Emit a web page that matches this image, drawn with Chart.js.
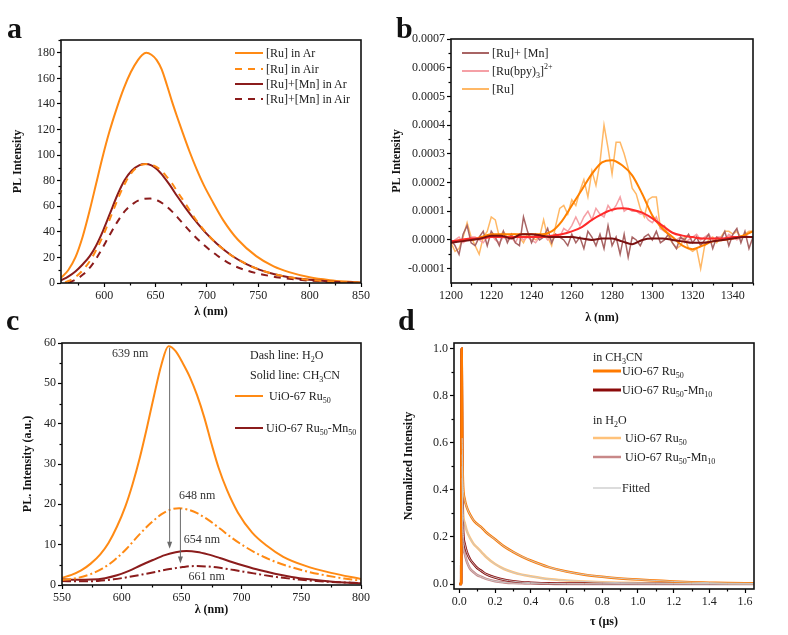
<!DOCTYPE html>
<html><head><meta charset="utf-8">
<script src="https://cdn.jsdelivr.net/npm/chart.js@4.4.0/dist/chart.umd.min.js"></script>
<style>
html,body{margin:0;padding:0;background:#fff;}
#wrap{position:relative;width:788px;height:635px;overflow:hidden;font-family:"Liberation Serif","Times New Roman",serif;color:#222;}
canvas{position:absolute;}
.lbl{position:absolute;font-weight:bold;font-size:30px;line-height:30px;color:#111;}
.leg{position:absolute;font-size:12px;white-space:nowrap;line-height:14px;height:14px;}
.leg svg{position:absolute;left:0;top:0;}
.leg sub{font-size:8px;vertical-align:-3px;line-height:0;}
.leg sup{font-size:8px;vertical-align:6px;line-height:0;}
</style></head>
<body><div id="wrap">
<canvas id="ca" width="394" height="322" style="left:0;top:0"></canvas>
<canvas id="cb" width="408" height="328" style="left:380px;top:0"></canvas>
<canvas id="cc" width="394" height="313" style="left:0;top:322px"></canvas>
<canvas id="cd" width="394" height="313" style="left:394px;top:322px"></canvas>

<div class="lbl" style="left:7px;top:13px">a</div>
<div class="lbl" style="left:396px;top:13px">b</div>
<div class="lbl" style="left:6px;top:305px">c</div>
<div class="lbl" style="left:398px;top:305px">d</div>

<!-- legend a -->
<div class="leg" style="left:235px;top:46px"><svg width="30" height="14"><line x1="0" y1="7" x2="28" y2="7" stroke="#ff8a14" stroke-width="2"/></svg><span style="margin-left:31px">[Ru] in Ar</span></div>
<div class="leg" style="left:235px;top:62px"><svg width="30" height="14"><line x1="0" y1="7" x2="28" y2="7" stroke="#ff8a14" stroke-width="2" stroke-dasharray="7,6"/></svg><span style="margin-left:31px">[Ru] in Air</span></div>
<div class="leg" style="left:235px;top:77px"><svg width="30" height="14"><line x1="0" y1="7" x2="28" y2="7" stroke="#8b1c1c" stroke-width="2"/></svg><span style="margin-left:31px">[Ru]+[Mn] in Ar</span></div>
<div class="leg" style="left:235px;top:92px"><svg width="30" height="14"><line x1="0" y1="7" x2="28" y2="7" stroke="#8b1c1c" stroke-width="2" stroke-dasharray="7,6"/></svg><span style="margin-left:31px">[Ru]+[Mn] in Air</span></div>

<!-- legend b -->
<div class="leg" style="left:462px;top:46px"><svg width="30" height="14"><line x1="0" y1="7" x2="27" y2="7" stroke="#a86464" stroke-width="2"/></svg><span style="margin-left:30px">[Ru]+ [Mn]</span></div>
<div class="leg" style="left:462px;top:64px"><svg width="30" height="14"><line x1="0" y1="7" x2="27" y2="7" stroke="#f5a0a6" stroke-width="2"/></svg><span style="margin-left:30px">[Ru(bpy)<sub>3</sub>]<sup>2+</sup></span></div>
<div class="leg" style="left:462px;top:82px"><svg width="30" height="14"><line x1="0" y1="7" x2="27" y2="7" stroke="#ffb866" stroke-width="2"/></svg><span style="margin-left:30px">[Ru]</span></div>

<!-- legend c -->
<div class="leg" style="left:250px;top:348px">Dash line: H<sub>2</sub>O</div>
<div class="leg" style="left:250px;top:368px">Solid line: CH<sub>3</sub>CN</div>
<div class="leg" style="left:235px;top:389px"><svg width="30" height="14"><line x1="0" y1="7" x2="28" y2="7" stroke="#ff8a14" stroke-width="2"/></svg><span style="margin-left:34px">UiO-67 Ru<sub>50</sub></span></div>
<div class="leg" style="left:235px;top:421px"><svg width="30" height="14"><line x1="0" y1="7" x2="28" y2="7" stroke="#8b1c1c" stroke-width="2"/></svg><span style="margin-left:31px">UiO-67 Ru<sub>50</sub>-Mn<sub>50</sub></span></div>

<!-- legend d -->
<div class="leg" style="left:593px;top:350px">in CH<sub>3</sub>CN</div>
<div class="leg" style="left:593px;top:364px"><svg width="30" height="14"><line x1="0" y1="7" x2="28" y2="7" stroke="#ff7a00" stroke-width="3"/></svg><span style="margin-left:29px">UiO-67 Ru<sub>50</sub></span></div>
<div class="leg" style="left:593px;top:383px"><svg width="30" height="14"><line x1="0" y1="7" x2="28" y2="7" stroke="#8b0a0a" stroke-width="3"/></svg><span style="margin-left:29px">UiO-67 Ru<sub>50</sub>-Mn<sub>10</sub></span></div>
<div class="leg" style="left:593px;top:413px">in H<sub>2</sub>O</div>
<div class="leg" style="left:593px;top:431px"><svg width="30" height="14"><line x1="0" y1="7" x2="28" y2="7" stroke="#ffc27a" stroke-width="2.5"/></svg><span style="margin-left:32px">UiO-67 Ru<sub>50</sub></span></div>
<div class="leg" style="left:593px;top:450px"><svg width="30" height="14"><line x1="0" y1="7" x2="28" y2="7" stroke="#c88888" stroke-width="2.5"/></svg><span style="margin-left:32px">UiO-67 Ru<sub>50</sub>-Mn<sub>10</sub></span></div>
<div class="leg" style="left:593px;top:481px"><svg width="30" height="14"><line x1="0" y1="7" x2="28" y2="7" stroke="#dcdcdc" stroke-width="2"/></svg><span style="margin-left:29px">Fitted</span></div>
</div>
<script>
// ---------- Panel a data (wavelength nm, PL intensity) ----------
const A_RU_AR_X  = [558,565,572,579,586,592,598,605,612,619,626,633,637,641,646,651,656,661,666,671,676,683,690,697,706,716,730,748,765,780,800,820,835,850];
const A_RU_AR_Y  = [4,10,20,36,57,77,97,118,136,152,165,174.5,178.3,180,178.5,174.5,167,155,142,130,118.5,103,89,76.5,63,49,34,21,13,8.5,4.5,2.2,1.1,0.3];
const A_RU_AIR_X = [562,570,578,586,593,600,607,614,621,628,635,642,648,654,660,666,672,680,688,698,710,724,738,751,765,780,800,820,835,850];
const A_RU_AIR_Y = [0.5,3.5,9,17,27,39,53,67,79,87.5,92,93,92,89,84,78,70.5,61,51,40.5,30.5,21.5,15,10.5,7,4.5,2.5,1.2,0.6,0.2];
const A_MN_AR_X  = [558,565,572,579,586,592,599,606,613,620,627,634,640,646,652,658,664,671,679,688,698,710,724,738,751,765,780,800,820,835,850];
const A_MN_AR_Y  = [2,5,9,14.5,21,29,41,55,69,80.5,88,92,93,92,88.5,83,76.5,68,59,49.5,40,30.5,21.5,15,10.5,7,4.5,2.5,1.2,0.6,0.2];
const A_MN_AIR_X = [565,572,580,588,596,605,613,621,629,637,645,652,659,666,674,684,696,710,725,740,755,770,790,810,830,850];
const A_MN_AIR_Y = [0,2.5,7,14,24,37,48,57,62.5,65.5,66,64.5,61,56,49,40,30.5,21.5,14,9.5,6.5,4.3,2.5,1.3,0.6,0.2];
const A_XTICKS = [600,650,700,750,800,850];
const A_XMINOR = [575,625,675,725,775,825];
const A_YTICKS = [0,20,40,60,80,100,120,140,160,180];
const A_YMINOR = [10,30,50,70,90,110,130,150,170,190];

// ---------- Panel b data (wavelength nm, PL intensity in units of 1e-5) ----------
const B_RAW_X = [1200,1202,1204,1206,1208,1210,1212,1214,1216,1218,
                 1220,1222,1224,1226,1228,1230,1232,1234,1236,1238,
                 1240,1242,1244,1246,1248,1250,1252,1254,1256,1258,
                 1260,1262,1264,1266,1268,1270,1272,1274,1276,1278,
                 1280,1282,1284,1286,1288,1290,1292,1294,1296,1298,
                 1300,1302,1304,1306,1308,1310,1312,1314,1316,1318,
                 1320,1322,1324,1326,1328,1330,1332,1334,1336,1338,
                 1340,1342,1344,1346,1348,1350];
const B_RU_RAW  = [-1,-4,-3,1,6,1,-2,-5,1,3,
                   8,7,1,3,1,2,2,1,-1,2,
                   1,0,1,7,1,-2,5,11,12,9,
                   14,12,17,21,15,24,19,27,40,32,
                   23,34,34,30,25,18,16,11,8,14,
                   15,15,4,5,1,-1,-3,-2,1,-3,
                   -4,-3,-10,-2,0,1,-1,1,3,3,
                   2,3,1,2,3,3];
const B_BPY_RAW = [-1,0,1,-1,0,1,1,0,-1,1,
                   2,0,-1,1,0,1,-1,2,0,1,
                   0,-1,1,2,0,1,2,1,4,3,
                   5,8,5,8,10,7,11,9,8,12,
                   10,12,15,10,11,10,10,9,9,7,
                   6,8,4,3,2,1,0,1,-1,0,
                   1,2,0,1,2,0,1,1,0,2,
                   1,0,1,2,1,1];
const B_MN_RAW  = [0,-2,-5,2,5,-1,-2,1,3,-2,
                   3,1,-2,3,-1,2,-1,-2,8,3,
                   -1,2,0,1,4,-1,2,1,0,-2,
                   2,-1,1,-3,3,1,-2,2,-3,5,
                   -2,1,-5,2,-6,1,0,-2,1,2,
                   0,3,-1,0,2,-1,-3,1,0,2,
                   -1,1,-2,0,2,-3,1,0,3,-2,
                   2,4,-1,3,-3,1];
const B_SM_X    = [1200,1205,1210,1215,1220,1225,1230,1235,1240,1245,1250,1255,1260,1265,1270,1275,1280,1285,1290,1295,1300,1305,1310,1315,1320,1325,1330,1335,1340,1345,1350];
const B_RU_SM   = [-1,0,0,1,2,2,2,2,2,2,3,6.5,12,17.5,23,27,27.8,26,22.5,16,8.5,4,1,-2,-3.2,-2,-0.5,0,0.5,1.5,3];
const B_BPY_SM  = [-0.5,0,0.5,0.5,1,1,1,1,1,1,1.5,2,3,4.5,7,9,10.5,11,10.5,9.5,7.5,5,2.5,1.5,1,0.5,0.5,0.5,1,1,1];
const B_MN_SM   = [-1,-0.5,0,0.5,1.5,1.5,0.5,2,2,1.5,1,1,1,0.5,0,0.5,0.5,-0.5,-1.5,0,0.5,0.5,0,-0.5,-1,-1,-0.5,0,0.5,1,1];
const B_UNIT = 1e-5;
const B_XTICKS = [1200,1220,1240,1260,1280,1300,1320,1340];
const B_XMINOR = [1210,1230,1250,1270,1290,1310,1330,1350];
const B_YTICKS = [-0.0001,0,0.0001,0.0002,0.0003,0.0004,0.0005,0.0006,0.0007];
const B_YMINOR = [-0.00005,0.00005,0.00015,0.00025,0.00035,0.00045,0.00055,0.00065];

// ---------- Panel c data ----------
const C_RU_CH3CN_X = [550,558,566,574,582,589,596,603,609,615,621,627,633,639,645,651,657,663,669,675,681,688,697,709,721,735,753,775,800];
const C_RU_CH3CN_Y = [1.8,2.5,3.6,5.3,7.6,10.5,14.5,19.5,25,31.5,39,47,54.5,59.2,58,55,51.5,47,41.5,35,29,23.5,18,13,9.8,7,4.8,3,1.5];
const C_RU_H2O_X   = [550,562,574,584,594,604,614,624,634,642,648,655,663,672,682,692,703,715,728,742,757,772,786,800];
const C_RU_H2O_Y   = [1.2,1.7,2.7,4.1,6.2,9,12.3,15.3,17.7,18.8,19,18.7,17.8,16.2,14,11.7,9.5,7.5,5.8,4.4,3.2,2.3,1.6,1.1];
const C_MN_CH3CN_X = [550,562,574,586,596,606,616,626,636,645,654,663,672,682,692,703,715,728,742,757,772,786,800];
const C_MN_CH3CN_Y = [1.4,1.3,1.35,1.7,2.4,3.5,4.9,6.2,7.4,8.1,8.4,8.2,7.6,6.7,5.7,4.7,3.7,2.8,2.0,1.4,0.95,0.65,0.45];
const C_MN_H2O_X   = [550,565,580,593,605,617,629,640,651,661,671,682,694,706,719,733,748,763,780,800];
const C_MN_H2O_Y   = [1.0,0.9,1.0,1.4,1.95,2.6,3.3,3.95,4.45,4.7,4.6,4.25,3.7,3.1,2.45,1.85,1.35,0.98,0.7,0.5];
const C_XTICKS = [550,600,650,700,750,800];
const C_XMINOR = [575,625,675,725,775];
const C_YTICKS = [0,10,20,30,40,50,60];
const C_YMINOR = [5,15,25,35,45,55];
const C_PEAK_LABELS = ['639 nm','648 nm','654 nm','661 nm'];
const C_PEAK_LABEL_X = [607,663,667,671];
const C_PEAK_LABEL_Y = [57.3,22,11.2,2.1];
const C_ARROW_X  = [640,649];
const C_ARROW_Y0 = [58.8,19];
const C_ARROW_Y1 = [9,5.3];

// ---------- Panel d data (time us, normalized intensity) ----------
const D_T = [0,0.01,0.013,0.016,0.02,0.03,0.04,0.05,0.06,0.08,0.1,0.125,0.15,0.2,0.25,0.3,0.35,0.4,0.5,0.6,0.7,0.8,0.9,1.0,1.1,1.2,1.3,1.4,1.5,1.65];
const D_RU_CH3CN = [0,0,1.0,0.62,0.44,0.36,0.33,0.31,0.295,0.27,0.255,0.24,0.22,0.19,0.16,0.137,0.117,0.1,0.072,0.053,0.04,0.031,0.024,0.019,0.015,0.011,0.008,0.006,0.004,0.003];
const D_MN_CH3CN = [0,0,1.0,0.5,0.25,0.17,0.14,0.12,0.105,0.085,0.068,0.055,0.042,0.028,0.018,0.012,0.008,0.006,0.003,0.002,0.002,0.001,0.002,0.001,0.001,0.001,0.001,0.001,0.001,0.001];
const D_RU_H2O   = [0,0,1.0,0.55,0.32,0.26,0.23,0.21,0.195,0.17,0.155,0.135,0.115,0.085,0.064,0.05,0.04,0.033,0.021,0.015,0.011,0.008,0.006,0.005,0.004,0.003,0.002,0.002,0.001,0.001];
const D_MN_H2O   = [0,0,1.0,0.45,0.2,0.13,0.1,0.08,0.065,0.05,0.038,0.03,0.022,0.012,0.007,0.004,0.003,0.002,0.001,0,0,0,0,0,0,0,0,0,0,0];
const D_XTICKS = [0,0.2,0.4,0.6,0.8,1.0,1.2,1.4,1.6];
const D_XMINOR = [0.1,0.3,0.5,0.7,0.9,1.1,1.3,1.5];
const D_YTICKS = [0,0.2,0.4,0.6,0.8,1.0];
const D_YMINOR = [0.1,0.3,0.5,0.7,0.9];

// ---------- helpers ----------
const FONT = '"Liberation Serif","Times New Roman",serif';
const pts = (xs, ys, k) => xs.map((x, i) => ({x: x, y: ys[i] * (k || 1)}));

const framePlugin = {
  id: 'frame',
  afterDatasetsDraw(chart, args, o) {
    const {ctx, chartArea: ca, scales} = chart;
    ctx.save();
    ctx.strokeStyle = '#000'; ctx.lineWidth = 1.2;
    (o.minorX || []).forEach(v => {
      const x = Math.round(scales.x.getPixelForValue(v)) + 0.5;
      ctx.beginPath(); ctx.moveTo(x, ca.bottom); ctx.lineTo(x, ca.bottom + 2.5); ctx.stroke();
    });
    (o.minorY || []).forEach(v => {
      const y = Math.round(scales.y.getPixelForValue(v)) + 0.5;
      ctx.beginPath(); ctx.moveTo(ca.left, y); ctx.lineTo(ca.left - 2.5, y); ctx.stroke();
    });
    (o.arrows || []).forEach(a => {
      const x = scales.x.getPixelForValue(a.x);
      const y0 = scales.y.getPixelForValue(a.y0), y1 = scales.y.getPixelForValue(a.y1);
      ctx.strokeStyle = '#6a6a6a'; ctx.fillStyle = '#6a6a6a'; ctx.lineWidth = 1;
      ctx.beginPath(); ctx.moveTo(x, y0); ctx.lineTo(x, y1 - 5); ctx.stroke();
      ctx.beginPath(); ctx.moveTo(x, y1); ctx.lineTo(x - 2.5, y1 - 7); ctx.lineTo(x + 2.5, y1 - 7); ctx.closePath(); ctx.fill();
    });
    (o.notes || []).forEach(n => {
      ctx.fillStyle = '#333'; ctx.font = '12px ' + FONT; ctx.textAlign = 'center'; ctx.textBaseline = 'middle';
      ctx.fillText(n.t, scales.x.getPixelForValue(n.x), scales.y.getPixelForValue(n.y));
    });
    ctx.strokeStyle = '#111'; ctx.lineWidth = 1.6;
    ctx.strokeRect(ca.left, ca.top, ca.right - ca.left, ca.bottom - ca.top);
    ctx.restore();
  }
};

function axis(min, max, ticks, fmt, title, fit, isX) {
  return {
    type: 'linear', min: min, max: max,
    afterBuildTicks: s => { s.ticks = ticks.map(v => ({value: v})); },
    afterFit: s => { if (isX) s.height = fit; else s.width = fit; },
    ticks: {callback: fmt, font: {family: FONT, size: 12}, color: '#222', padding: 2, maxRotation: 0, autoSkip: false},
    grid: {drawOnChartArea: false, drawTicks: true, tickLength: 4, tickColor: '#000', tickWidth: 1.2},
    border: {display: false},
    title: {display: true, text: title, font: {family: FONT, size: 12, weight: 'bold'}, color: '#111', padding: 0}
  };
}

function line(data, color, width, dash, smooth) {
  return {data: data, borderColor: color, borderWidth: width, borderDash: dash || [], pointRadius: 0,
          fill: false, tension: smooth === false ? 0 : 0.4, cubicInterpolationMode: smooth === false ? 'default' : 'monotone'};
}

function make(id, g, datasets, xs, ys, frame) {
  new Chart(document.getElementById(id), {
    type: 'line',
    data: {datasets: datasets},
    options: {
      responsive: false, animation: false, devicePixelRatio: 1,
      layout: {padding: {left: g.pl, top: g.pt, right: g.pr, bottom: g.pb}},
      plugins: {legend: {display: false}, tooltip: {enabled: false}, frame: frame},
      scales: {x: xs, y: ys}
    },
    plugins: [framePlugin]
  });
}

const ORANGE = '#ff8a14', DRED = '#8b1c1c';
const intFmt = v => String(v);

// Panel a
make('ca', {pl: 10.8, pt: 40, pr: 33, pb: 2.8},
  [
    line(pts(A_RU_AIR_X, A_RU_AIR_Y), ORANGE, 2, [7, 6]),
    line(pts(A_MN_AR_X, A_MN_AR_Y), DRED, 2),
    line(pts(A_RU_AR_X, A_RU_AR_Y), ORANGE, 2),
    line(pts(A_MN_AIR_X, A_MN_AIR_Y), DRED, 2, [7, 6])
  ],
  axis(558, 850, A_XTICKS, intFmt, 'λ (nm)', 36.2, true),
  axis(0, 190, A_YTICKS, intFmt, 'PL Intensity', 50.2, false),
  {minorX: A_XMINOR, minorY: A_YMINOR});

// Panel b
make('cb', {pl: 9.8, pt: 39, pr: 35, pb: 2.8},
  [
    line(pts(B_SM_X, B_MN_SM, B_UNIT), '#7a1010', 2),
    line(pts(B_SM_X, B_BPY_SM, B_UNIT), '#ff2a2a', 2),
    line(pts(B_SM_X, B_RU_SM, B_UNIT), '#ff8000', 2),
    line(pts(B_RAW_X, B_MN_RAW, B_UNIT), '#a86464', 1.5, [], false),
    line(pts(B_RAW_X, B_BPY_RAW, B_UNIT), '#f5a0a6', 1.5, [], false),
    line(pts(B_RAW_X, B_RU_RAW, B_UNIT), '#ffb866', 1.5, [], false)
  ],
  axis(1200, 1350, B_XTICKS, intFmt, 'λ (nm)', 42.2, true),
  axis(-0.00015, 0.0007, B_YTICKS, v => v.toFixed(4), 'PL Intensity', 61.2, false),
  {minorX: B_XMINOR, minorY: B_YMINOR});

// Panel c
make('cc', {pl: 20.8, pt: 21, pr: 33, pb: 17.8},
  [
    line(pts(C_RU_CH3CN_X, C_RU_CH3CN_Y), ORANGE, 2),
    line(pts(C_RU_H2O_X, C_RU_H2O_Y), ORANGE, 2, [9, 3, 2, 3]),
    line(pts(C_MN_CH3CN_X, C_MN_CH3CN_Y), DRED, 2),
    line(pts(C_MN_H2O_X, C_MN_H2O_Y), DRED, 2, [9, 3, 2, 3])
  ],
  axis(550, 800, C_XTICKS, intFmt, 'λ (nm)', 32.2, true),
  axis(0, 60, C_YTICKS, intFmt, 'PL. Intensity (a.u.)', 41.2, false),
  {minorX: C_XMINOR, minorY: C_YMINOR,
   arrows: C_ARROW_X.map((x, i) => ({x: x, y0: C_ARROW_Y0[i], y1: C_ARROW_Y1[i]})),
   notes: C_PEAK_LABELS.map((t, i) => ({t: t, x: C_PEAK_LABEL_X[i], y: C_PEAK_LABEL_Y[i]}))});

// Panel d
const FIT = 'rgba(200,200,200,0.95)';
const fitPts = ys => pts(D_T.slice(3), ys.slice(3));
make('cd', {pl: 7.8, pt: 21, pr: 34, pb: 5.8},
  [
    line(fitPts(D_RU_CH3CN), FIT, 1),
    line(fitPts(D_RU_H2O), FIT, 1),
    line(fitPts(D_MN_CH3CN), FIT, 1),
    line(fitPts(D_MN_H2O), FIT, 1),
    line(pts(D_T, D_RU_CH3CN), '#ff7a00', 2.5),
    line(pts(D_T, D_MN_CH3CN), '#8b0a0a', 2.5),
    line(pts(D_T, D_RU_H2O), '#ffc27a', 2.5),
    line(pts(D_T, D_MN_H2O), '#c88888', 2.5)
  ],
  axis(-0.03, 1.65, D_XTICKS, v => v.toFixed(1), 'τ (μs)', 40.2, true),
  axis(-0.021, 1.024, D_YTICKS, v => v.toFixed(1), 'Normalized Intensity', 52.2, false),
  {minorX: D_XMINOR, minorY: D_YMINOR});
</script>
</body></html>
